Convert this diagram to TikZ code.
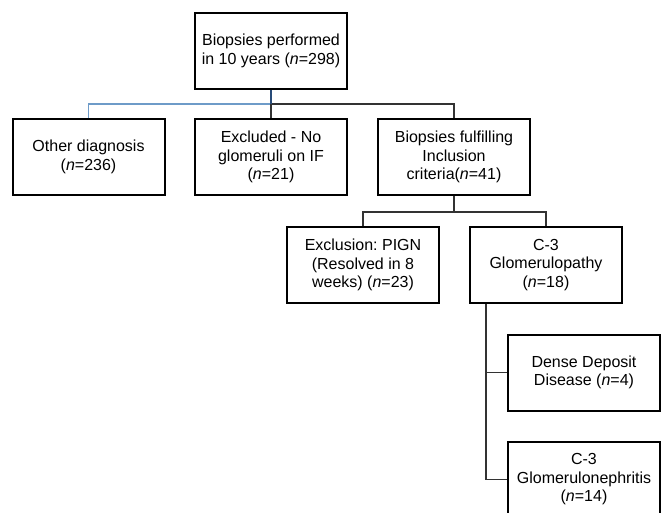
\documentclass[tikz,border=0pt]{standalone}
\usepackage{fontspec}
\setmainfont{Liberation Sans}
\frenchspacing
\begin{document}
\begin{tikzpicture}[x=0.75pt, y=-0.75pt,
		box/.style={draw, line width=1.5pt, minimum width=114pt, minimum height=57pt, align=center, inner sep=2pt, font=\fontsize{12}{13.9}\selectfont},
		link/.style={draw=black!80, line width=0.8pt},
		bluelink/.style={draw={rgb,255:red,110;green,155;blue,200}, line width=1.2pt},
		navylink/.style={draw={rgb,255:red,40;green,75;blue,120}, line width=1.2pt}]
			\useasboundingbox (0,0) rectangle (661,512);
			\node[box] (top) at (271,51) {Biopsies performed\\in 10 years (\textit{n}=298)};
			\node[box] (other) at (88.5,157) {Other diagnosis\\(\textit{n}=236)};
			\node[box] (excl) at (271,157) {Excluded - No\\glomeruli on IF\\(\textit{n}=21)};
			\node[box] (incl) at (454,157) {Biopsies fulfilling\\Inclusion\\criteria(\textit{n}=41)};
			\node[box] (pign) at (363,265) {Exclusion: PIGN\\(Resolved in 8\\weeks) (\textit{n}=23)};
			\node[box] (c3g) at (546,265) {C-3\\Glomerulopathy\\(\textit{n}=18)};
			\node[box] (ddd) at (584,372.5) {Dense Deposit\\Disease (\textit{n}=4)};
			\node[box] (c3gn) at (584,479.5) {C-3\\Glomerulonephritis\\(\textit{n}=14)};
			% first split
			\coordinate (j1) at (271,104);
			\draw[bluelink] (other.north) |- (j1);
			\draw[link] (j1) -- (excl.north);
			\draw[link] (j1) -| (incl.north);
			\draw[navylink] (top.south) -- (j1);
			% second split
			\coordinate (j2) at (454,212);
			\draw[link] (incl.south) -- (j2);
			\draw[link] (pign.north) |- (j2) -| (c3g.north);
			% c3 subtypes
			\coordinate (k) at (486,372.5);
			\draw[link] (c3g.south -| k) |- (c3gn.west);
			\draw[link] (k) -- (ddd.west);
		\end{tikzpicture}
\end{document}
